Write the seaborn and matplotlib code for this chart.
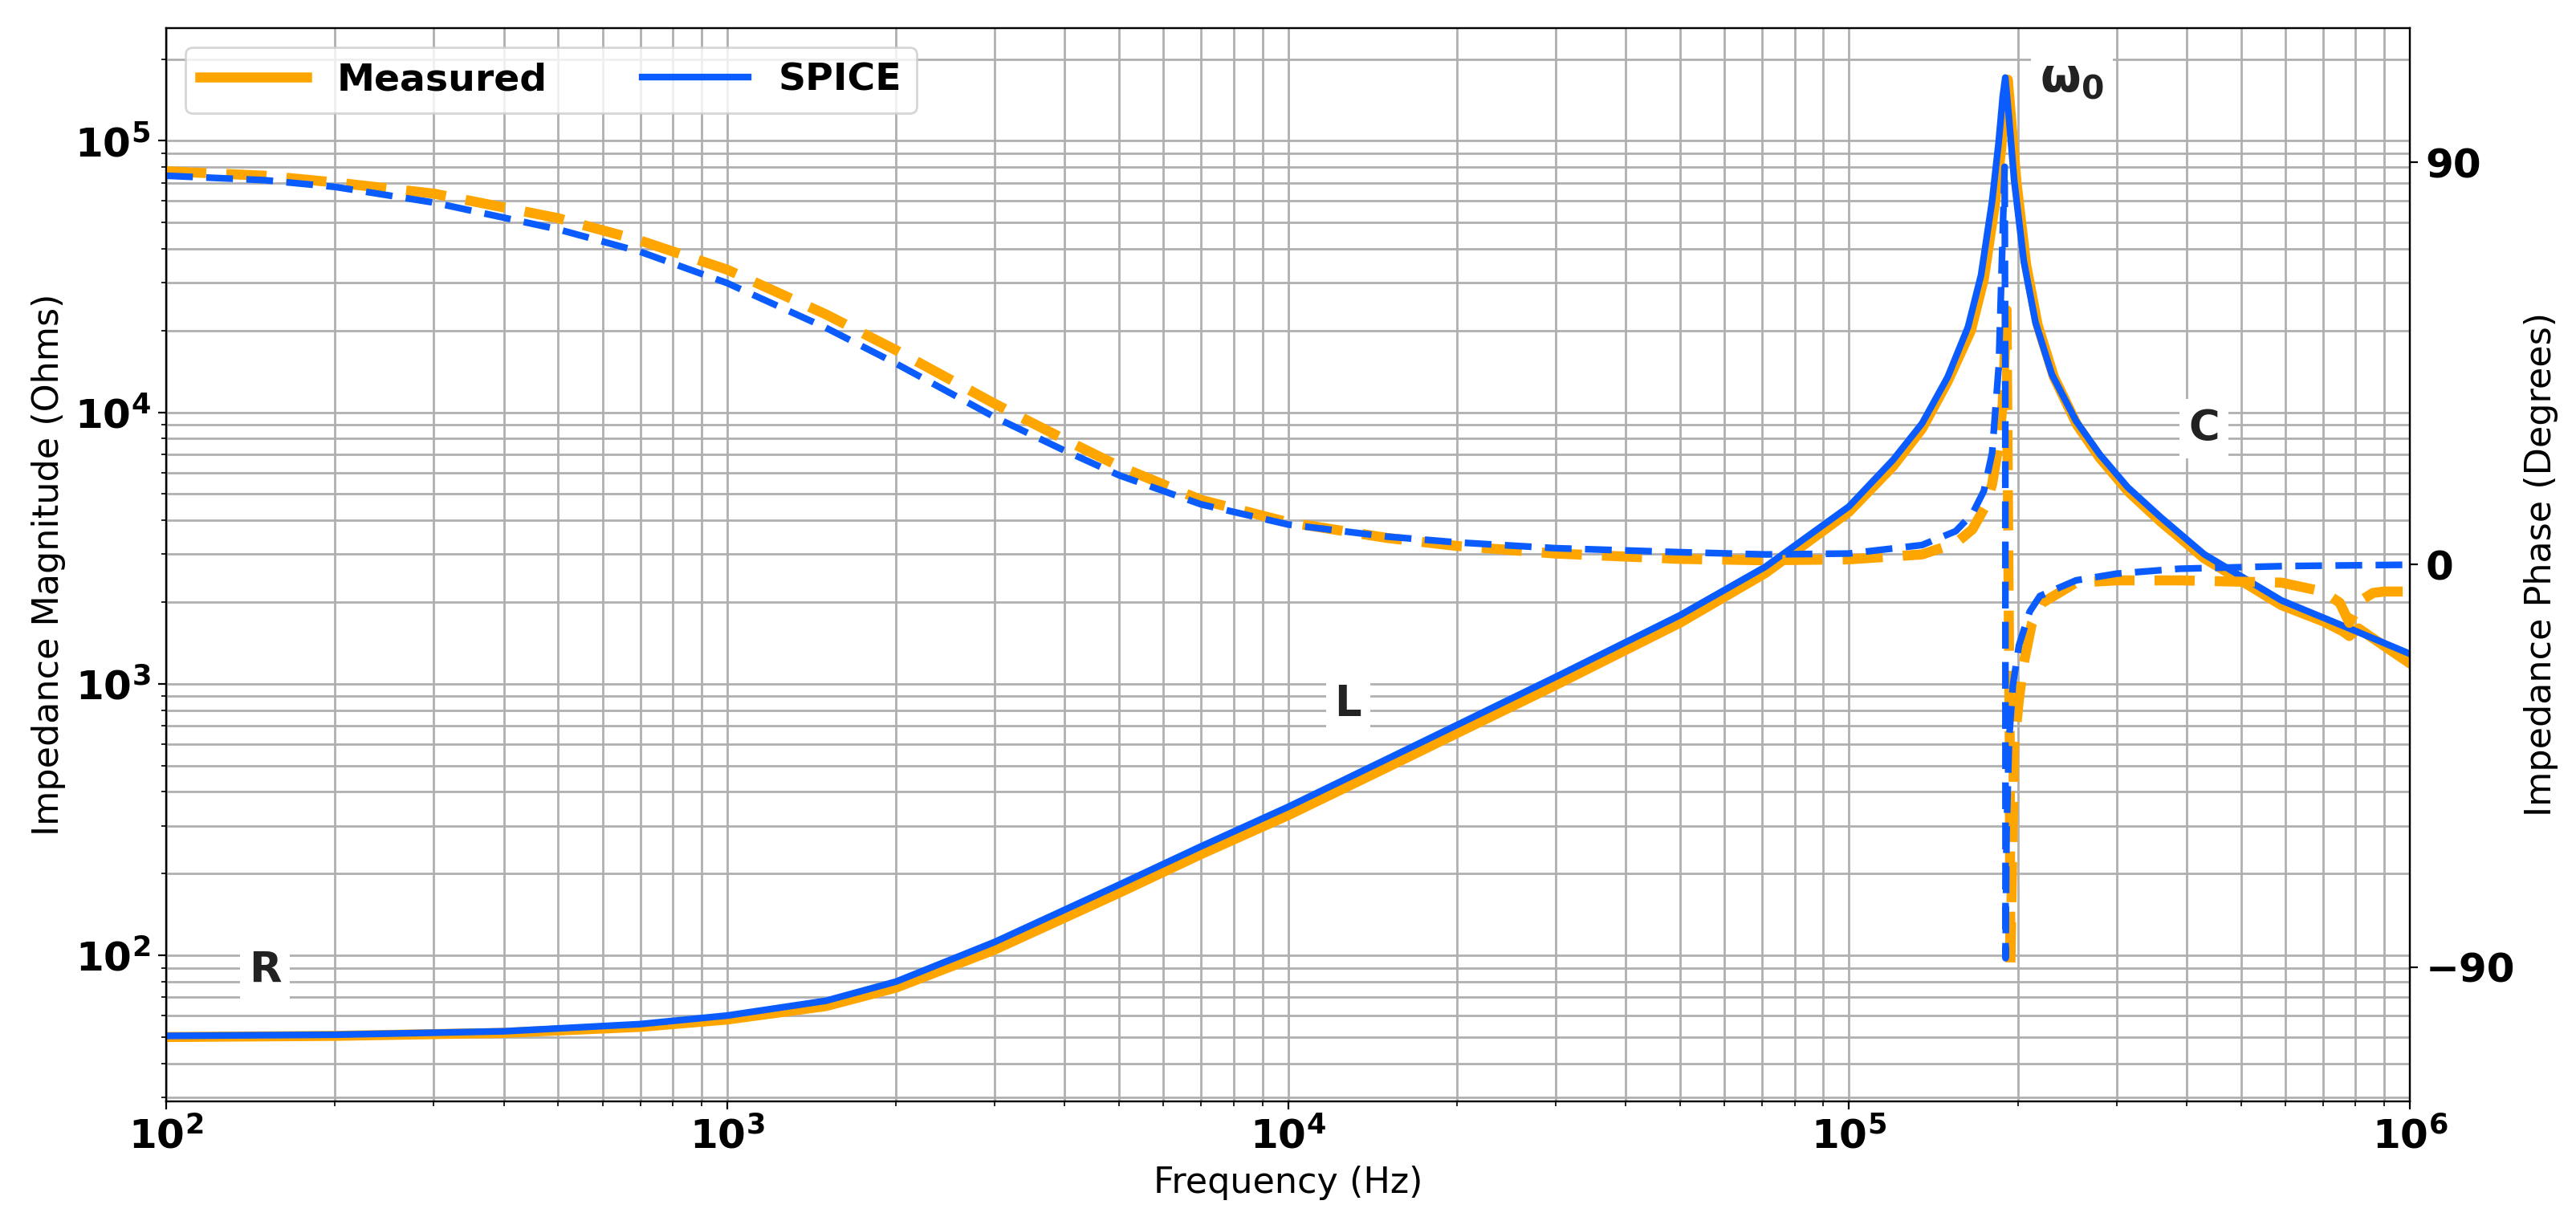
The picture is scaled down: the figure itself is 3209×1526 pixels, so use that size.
import numpy as np
import pandas as pd
import seaborn as sns
import matplotlib
matplotlib.use("Agg")
import matplotlib.pyplot as plt

# magnitude readings (Hz, Ohms)
spice_mag_f = [1e2, 2e2, 4e2, 7e2, 1e3, 1.5e3, 2e3, 3e3, 5e3, 7e3, 1e4, 1.5e4, 2e4, 3e4,
               5e4, 7.1e4, 1e5, 1.2e5, 1.35e5, 1.5e5, 1.63e5, 1.72e5, 1.8e5, 1.85e5,
               1.88e5, 1.9e5, 1.93e5, 1.97e5, 2.05e5, 2.15e5, 2.3e5, 2.54e5, 2.8e5,
               3.14e5, 3.6e5, 4.3e5, 5.9e5, 7.8e5, 1e6]
spice_mag = [50.5, 51, 52.5, 55.8, 60, 68, 80, 112, 182, 252, 352, 528, 705, 1060,
             1790, 2700, 4500, 6700, 9100, 13500, 20600, 32000, 60000, 100000,
             145000, 171000, 120000, 72000, 36000, 21500, 13800, 9300, 7000,
             5300, 4100, 3000, 2030, 1600, 1290]
meas_mag_f = [1e2, 2e2, 4e2, 7e2, 1e3, 1.5e3, 2e3, 3e3, 5e3, 7e3, 1e4, 1.5e4, 2e4, 3e4,
              5e4, 7.1e4, 1e5, 1.2e5, 1.35e5, 1.5e5, 1.65e5, 1.74e5, 1.82e5, 1.87e5,
              1.9e5, 1.92e5, 1.95e5, 1.99e5, 2.07e5, 2.17e5, 2.32e5, 2.55e5, 2.8e5,
              3.15e5, 3.6e5, 4.3e5, 5.9e5, 7e5, 7.6e5, 7.8e5, 8.1e5, 8.6e5, 1e6]
meas_mag = [50, 50.5, 51.8, 54.5, 58, 65, 76, 105, 170, 236, 328, 492, 658, 990,
            1680, 2560, 4300, 6350, 8700, 13000, 20000, 31000, 58000, 95000,
            150000, 168000, 115000, 70000, 35000, 21000, 13500, 9000, 6800,
            5100, 3950, 2900, 1950, 1700, 1560, 1500, 1600, 1470, 1190]

# phase readings (Hz, degrees)
spice_ph_f = [1e2, 1.5e2, 2e2, 3e2, 5e2, 7e2, 1e3, 1.5e3, 2e3, 3e3, 4e3, 5e3, 7e3, 1e4,
              1.5e4, 2e4, 3e4, 5e4, 7.1e4, 1e5, 1.35e5, 1.55e5, 1.66e5, 1.74e5, 1.8e5,
              1.85e5, 1.88e5, 1.895e5, 1.9e5, 1.902e5, 1.91e5, 1.93e5, 1.96e5, 2.01e5,
              2.1e5, 2.19e5, 2.54e5, 3e5, 3.88e5, 6e5, 1e6]
spice_ph = [87, 86, 84.5, 81, 75, 70, 63, 53, 45, 33, 25.5, 20, 13.5, 9,
            6.3, 5, 3.7, 2.8, 2.3, 2.5, 4.4, 7.5, 11.4, 16.5, 25,
            44.6, 74, 89, 40, -88, -60, -39, -27, -18,
            -10.5, -7, -3.5, -2, -0.9, -0.3, 0]
meas_ph_f = [1e2, 1.5e2, 2e2, 3e2, 5e2, 7e2, 1e3, 1.5e3, 2e3, 3e3, 4e3, 5e3, 7e3, 1e4,
             1.5e4, 2e4, 3e4, 5e4, 7.1e4, 1e5, 1.35e5, 1.55e5, 1.66e5, 1.75e5, 1.8e5,
             1.85e5, 1.88e5, 1.91e5, 1.935e5, 1.94e5, 1.97e5, 2.01e5, 2.05e5, 2.12e5,
             2.2e5, 2.54e5, 3e5, 3.9e5, 5.9e5, 7e5, 7.5e5, 7.8e5, 8.2e5, 8.6e5, 9e5, 1e6]
meas_ph = [88, 87, 85.5, 83, 77.5, 72.5, 66, 56, 48, 36, 28, 22, 14.5, 9.5,
           6, 4.2, 2.5, 1.3, 1.0, 1.2, 2.3, 4.8, 7.9, 13, 18,
           27, 36, 57, -40, -90, -41, -30, -22, -13,
           -8.7, -4, -3.5, -3.5, -4, -6, -8.5, -13, -7.9, -6.3, -6, -6]

plt.figure(figsize=(16.045, 7.63), dpi=200)
ax = plt.gca()
plt.subplots_adjust(left=0.0645, right=0.9355, top=0.977, bottom=0.101)
ax2 = ax.twinx()

c_meas = '#FFA500'
c_spice = '#0A5CFF'

sns.lineplot(x=meas_mag_f, y=meas_mag, ax=ax, color=c_meas, lw=4.5, label='Measured', sort=False)
sns.lineplot(x=spice_mag_f, y=spice_mag, ax=ax, color=c_spice, lw=3, label='SPICE', sort=False)
sns.lineplot(x=meas_ph_f, y=meas_ph, ax=ax2, color=c_meas, lw=4.5, ls=(0, (4, 2)), sort=False)
sns.lineplot(x=spice_ph_f, y=spice_ph, ax=ax2, color=c_spice, lw=3, ls=(0, (4, 2)), sort=False)

ax.set_xscale('log')
ax.set_yscale('log')
ax.set_xlim(1e2, 1e6)
ax.set_ylim(29, 2.6e5)
ax2.set_ylim(-120, 120)
ax2.set_yticks([-90, 0, 90])
ax.grid(True, which='both', color='#b0b0b0', lw=1)

ax.set_xlabel('Frequency (Hz)', fontsize=16)
ax.set_ylabel('Impedance Magnitude (Ohms)', fontsize=16)
ax2.set_ylabel('Impedance Phase (Degrees)', fontsize=16)
ax.tick_params(axis='both', labelsize=18)
ax2.tick_params(axis='y', labelsize=18)
for lab in ax.get_xticklabels() + ax.get_yticklabels() + ax2.get_yticklabels():
    lab.set_fontweight('bold')

ax.legend(loc='upper left', ncol=2, prop={'weight': 'bold', 'size': 17},
          handlelength=2.8, columnspacing=2.5)

box = dict(facecolor='white', edgecolor='none', pad=4)
ax.text(1.5e2, 88, 'R', fontsize=19, fontweight='bold', color='#222222', ha='center', va='center', bbox=box)
ax.text(1.28e4, 840, 'L', fontsize=19, fontweight='bold', color='#222222', ha='center', va='center', bbox=box)
ax.text(4.3e5, 8.7e3, 'C', fontsize=19, fontweight='bold', color='#222222', ha='center', va='center', bbox=box)
ax.text(2.5e5, 1.7e5, r'$\mathbf{\omega_0}$', fontsize=21, color='#222222', ha='center', va='center', bbox=box)

plt.savefig('out.png', dpi=200)
